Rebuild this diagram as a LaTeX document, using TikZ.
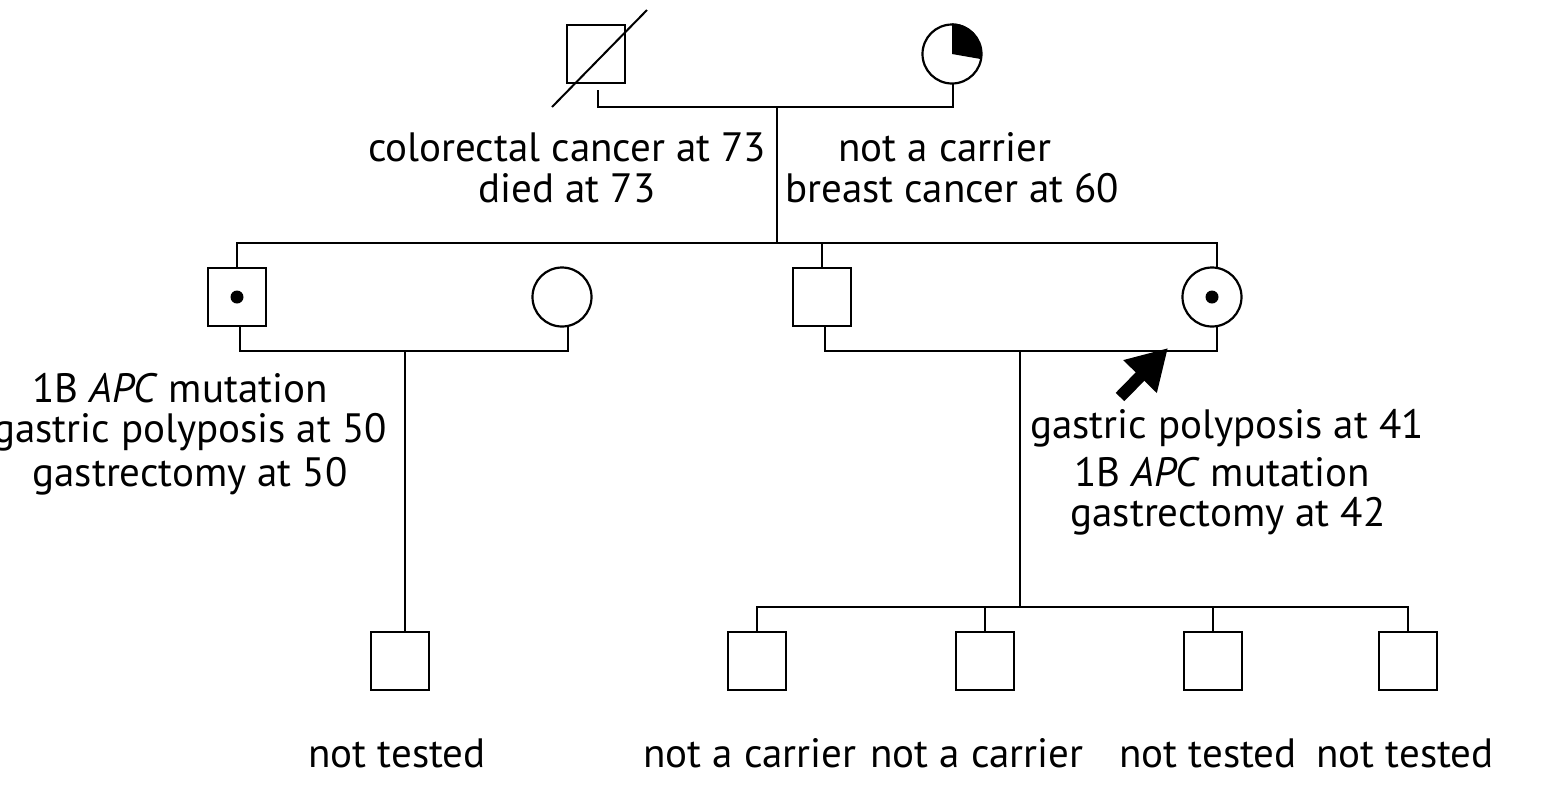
\documentclass[tikz,border=0pt]{standalone}
\usepackage{fontspec}
\setmainfont{PT Sans}
\usetikzlibrary{arrows.meta}
\begin{document}
\begin{tikzpicture}[x=0.5pt,y=-0.5pt,line width=1.3pt,
  sq/.style={draw,minimum size=29pt,inner sep=0pt,line width=1.3pt},
  ci/.style={draw,circle,minimum size=29.5pt,inner sep=0pt,line width=1.1pt},
  lab/.style={font=\fontsize{20.5}{22}\selectfont,inner sep=0pt},
  dot/.style={fill,circle,inner sep=0pt,minimum size=6.5pt}]
\clip (0,0) rectangle (1544,800);
\useasboundingbox (0,0) rectangle (1544,800);
% generation 1
\node[sq] (f) at (596,54) {};
\coordinate (s1) at (552,107); \coordinate (s2) at (647,10);
\draw[line width=1pt] (s1) -- (s2);
\node[ci] (m) at (952,54) {};
\fill (m.center) -- (m.north) arc (90:-12:29.5*0.5pt) -- cycle;
\coordinate (fa) at (598,90); \coordinate (ma) at (953,83);
\draw (fa) |- (777,107) -| (ma);
\draw (777,107) -- (777,243);
\node[lab] (t1) at (567,147) {colorectal cancer at 73};
\node[lab] (t2) at (567,188) {died at 73};
\node[lab] (t3) at (945,147) {not a carrier};
\node[lab] (t4) at (952,188) {breast cancer at 60};
% generation 2
\node[sq] (a) at (237,297) {}; \node[dot] at (a) {};
\node[ci] (b) at (562,297) {};
\node[sq] (c) at (822,297) {};
\node[ci] (d) at (1212,297) {}; \node[dot] at (d) {};
\draw (a.north) |- (777,243) -| (c.north);
\draw (777,243) -| (1217,268);
\draw (240,326) |- (405,351) -| (568,327);
\draw (405,351) -- (405,633);
\draw (825,326) |- (1020,351) -| (1217,327);
\draw (1020,351) -- (1020,607);
\coordinate (ar1) at (1120,397); \coordinate (ar2) at (1168,348);
\draw[line width=6pt,-{Triangle[length=20pt,width=22pt]}] (ar1) -- (ar2);
\node[lab] (l1) at (180,388) {1B \textit{APC} mutation};
\node[lab] (l2) at (190,432) {gastric polyposis at 50};
\node[lab] (l3) at (190,476) {gastrectomy at 50};
\node[lab] (r1) at (1227,428) {gastric polyposis at 41};
\node[lab] (r2) at (1222,472) {1B \textit{APC} mutation};
\node[lab] (r3) at (1228,516) {gastrectomy at 42};
% generation 3
\node[sq] (g) at (400,661) {};
\node[sq] (h1) at (757,661) {};
\node[sq] (h2) at (985,661) {};
\node[sq] (h3) at (1213,661) {};
\node[sq] (h4) at (1408,661) {};
\draw (h1.north) |- (1020,607) -| (h4.north);
\draw (h2.north) -- (985,607);
\draw (h3.north) -- (1213,607);
\node[lab] (b1) at (397,753) {not tested};
\node[lab] (b2) at (750,753) {not a carrier};
\node[lab] (b3) at (977,753) {not a carrier};
\node[lab] (b4) at (1208,753) {not tested};
\node[lab] (b5) at (1405,753) {not tested};
\end{tikzpicture}
\end{document}
